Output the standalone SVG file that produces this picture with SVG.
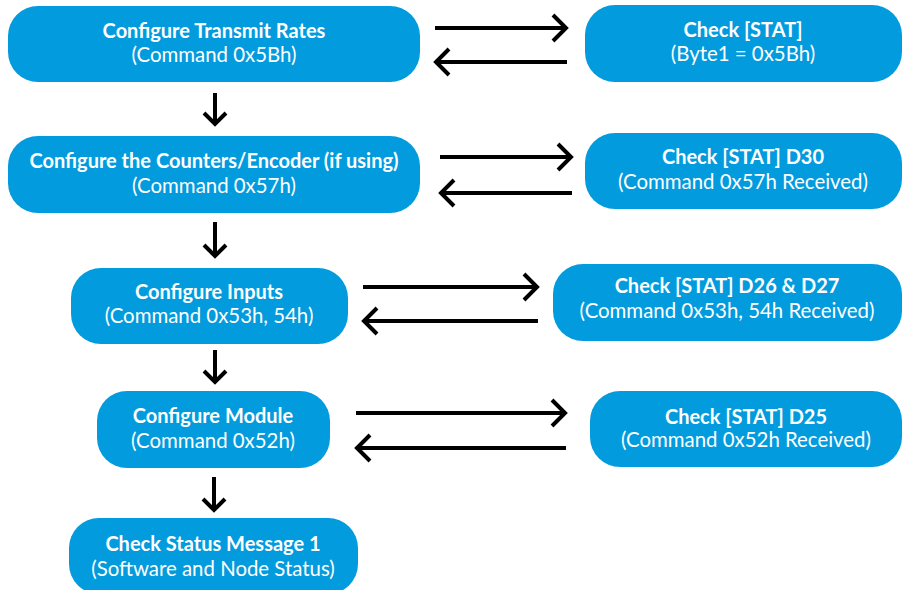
<svg xmlns="http://www.w3.org/2000/svg" width="908" height="590" viewBox="0 0 908 590">
<style>
.n{fill:#029BDE}
.t{font-family:Lato,"Liberation Sans",sans-serif;font-size:20.4px;fill:#fff;text-anchor:middle}
.b{font-weight:bold;font-size:20px}
.c{fill:none;stroke:#000;stroke-width:4;stroke-linecap:butt;stroke-linejoin:miter}
</style>
<rect width="908" height="590" fill="#fff"/>
<g id="n1"><rect class="n" x="8" y="6" width="412" height="76" rx="30"/><text class="t b" x="214" y="38">Configure Transmit Rates</text><text class="t" x="214" y="62">(Command 0x5Bh)</text></g>
<g id="n2"><rect class="n" x="8" y="136" width="412" height="77" rx="30"/><text class="t b" x="214" y="168">Configure the Counters/Encoder (if using)</text><text class="t" x="214" y="193">(Command 0x57h)</text></g>
<g id="n3"><rect class="n" x="71" y="268" width="277" height="76" rx="30"/><text class="t b" x="209" y="299">Configure Inputs</text><text class="t" x="209" y="323">(Command 0x53h, 54h)</text></g>
<g id="n4"><rect class="n" x="97" y="391" width="233" height="77" rx="30"/><text class="t b" x="213" y="423">Configure Module</text><text class="t" x="213" y="448">(Command 0x52h)</text></g>
<g id="n5"><rect class="n" x="69" y="518" width="289" height="76" rx="30"/><text class="t b" x="213" y="551">Check Status Message 1</text><text class="t" x="213" y="576">(Software and Node Status)</text></g>
<g id="r1"><rect class="n" x="585" y="5" width="317" height="77" rx="30"/><text class="t b" x="743" y="37">Check [STAT]</text><text class="t" x="743" y="61">(Byte1 = 0x5Bh)</text></g>
<g id="r2"><rect class="n" x="585" y="133" width="317" height="76" rx="30"/><text class="t b" x="743" y="164">Check [STAT] D30</text><text class="t" x="743" y="189">(Command 0x57h Received)</text></g>
<g id="r3"><rect class="n" x="553" y="264" width="349" height="77" rx="30"/><text class="t b" x="727" y="293">Check [STAT] D26 &amp; D27</text><text class="t" x="727" y="318">(Command 0x53h, 54h Received)</text></g>
<g id="r4"><rect class="n" x="590" y="391" width="312" height="76" rx="30"/><text class="t b" x="746" y="424">Check [STAT] D25</text><text class="t" x="746" y="447">(Command 0x52h Received)</text></g>
<g id="connectors" class="c">
<path d="M435 28H566M553 15L566 28L553 41"/>
<path d="M567 62H436M449 49L436 62L449 75"/>
<path d="M440 157H571M558 144L571 157L558 170"/>
<path d="M572 193H441M454 180L441 193L454 206"/>
<path d="M363 287H537M524 274L537 287L524 300"/>
<path d="M538 321H364M377 308L364 321L377 334"/>
<path d="M356 413H565M552 400L565 413L552 426"/>
<path d="M566 448H357M370 435L357 448L370 461"/>
<path d="M215 93V124M204 113L215 124L226 113"/>
<path d="M215 222V256M204 245L215 256L226 245"/>
<path d="M215 350V382M204 371L215 382L226 371"/>
<path d="M214 477V510M203 499L214 510L225 499"/>
</g>
</svg>
